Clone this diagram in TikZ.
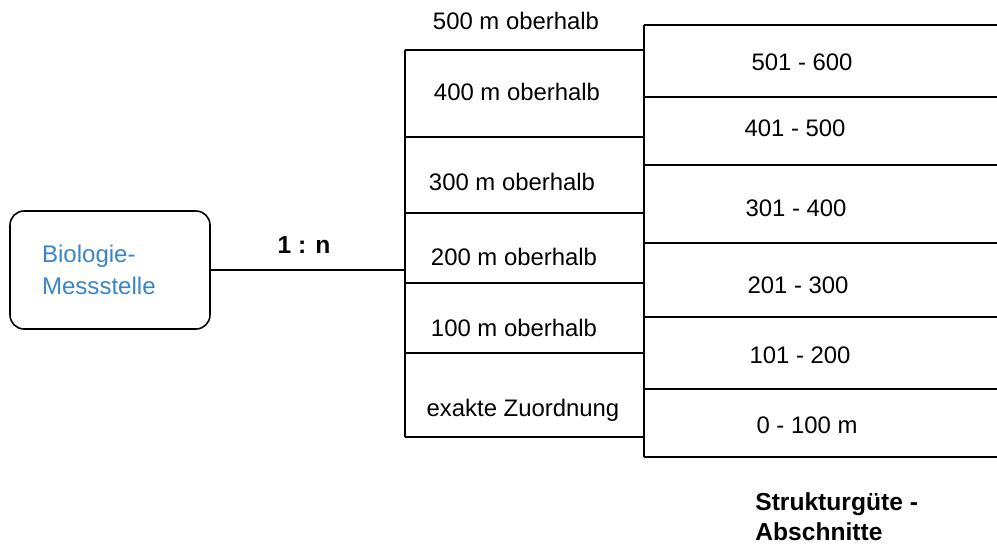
\documentclass[tikz,border=0pt]{standalone}
\usepackage{fontspec}
\setmainfont{Liberation Sans}
\usepackage{xcolor}
\usepackage{tikz}
\usetikzlibrary{calc, positioning}
\definecolor{mstblue}{RGB}{58,132,200}
\tikzset{
    entity/.style={rectangle, rounded corners=0.28cm, draw=black, line width=0.9pt, minimum width=4cm, minimum height=2.36cm, text width=2.72cm, align=left, inner sep=0pt, text=mstblue, font=\fontsize{13.7pt}{18.2pt}\selectfont},
    grid/.style={draw=black, line width=0.9pt},
    cellText/.style={inner sep=0pt, font=\fontsize{13.6pt}{16pt}\selectfont},
    relLabel/.style={inner sep=0pt, font=\fontsize{14pt}{16pt}\selectfont\bfseries},
    tableLabel/.style={anchor=west, align=left, inner sep=0pt, font=\fontsize{14pt}{17pt}\selectfont\bfseries}
}

\begin{document}
\begin{tikzpicture}[x=0.02cm, y=-0.02cm]
    \useasboundingbox (0,0) rectangle (997,544);

    % Messstelle
    \node[entity] (mst) at (110,270) {Biologie-\\Messstelle};

    % left column: distance above
    \draw[grid] (405,50) -- (405,437);
    \foreach \y in {50,137,213,283,353,437}
        \draw[grid] (405,\y) -- (644,\y);
    \node[cellText] (o500) at (516,21) {500 m oberhalb};
    \node[cellText] (o400) at (517,92) {400 m oberhalb};
    \node[cellText] (o300) at (512,182) {300 m oberhalb};
    \node[cellText] (o200) at (514,257) {200 m oberhalb};
    \node[cellText] (o100) at (514,328) {100 m oberhalb};
    \node[cellText] (oex) at (523,410) {exakte Zuordnung};

    % right table: sections
    \draw[grid] (644,25) -- (644,457);
    \foreach \y in {25,97,165,243,317,389,457}
        \draw[grid] (644,\y) -- (997,\y);
    \node[cellText] (s600) at (802,62) {501 - 600};
    \node[cellText] (s500) at (795,128) {401 - 500};
    \node[cellText] (s400) at (796,208) {301 - 400};
    \node[cellText] (s300) at (798,285) {201 - 300};
    \node[cellText] (s200) at (800,355) {101 - 200};
    \node[cellText] (s100) at (807,425) {0 - 100 m};

    % relation
    \coordinate (colL) at (405,270);
    \draw[grid] (mst.east) -- (colL);
    \node[relLabel] (rel) at (304,245) {1 : n};

    \node[tableLabel] (sgLabel) at (755,517) {Strukturgüte -\\Abschnitte};
\end{tikzpicture}
\end{document}
